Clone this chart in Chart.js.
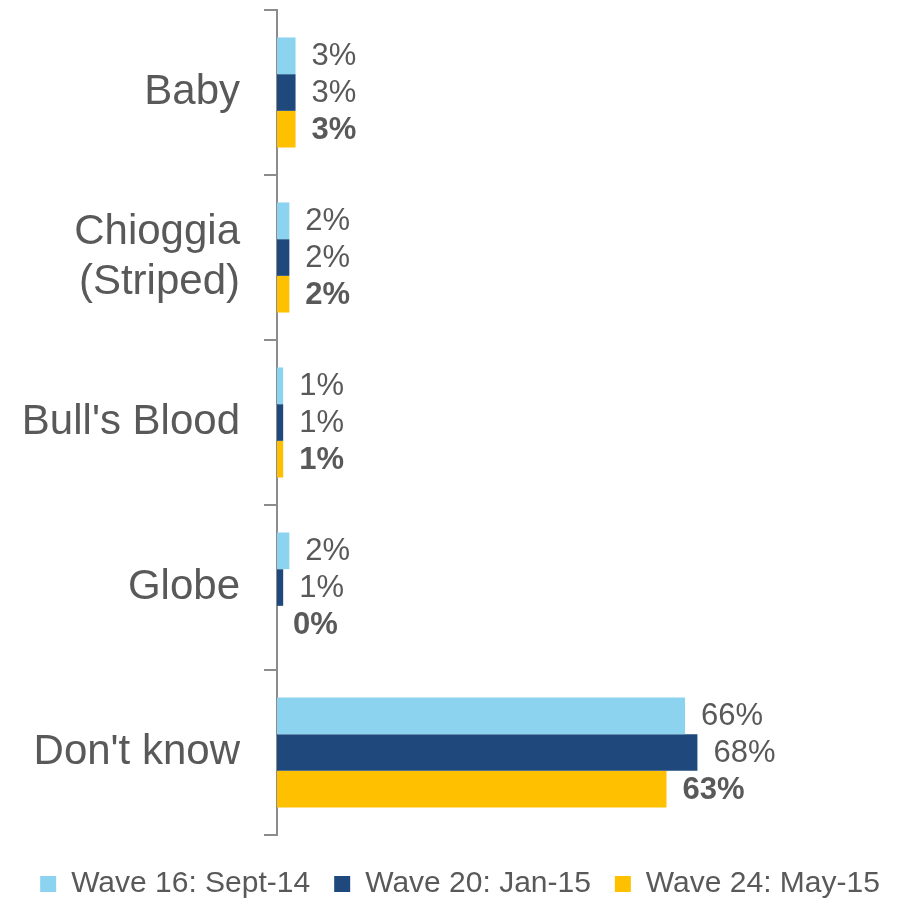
<!DOCTYPE html>
<html>
<head>
<meta charset="utf-8">
<script src="https://cdn.jsdelivr.net/npm/chart.js@4"></script>
<style>
  body { margin: 0; background: #fff; }
</style>
</head>
<body>
<canvas id="beetChart" width="920" height="900"></canvas>
<script>
// Beet varieties known, by survey wave (percent of respondents)
const varieties = ['Baby', ['Chioggia', '(Striped)'], "Bull's Blood", 'Globe', "Don't know"];
const wave16 = [3, 2, 1, 2, 66];
const wave20 = [3, 2, 1, 1, 68];
const wave24 = [3, 2, 1, 0, 63];
const waveNames = ['Wave 16: Sept-14', 'Wave 20: Jan-15', 'Wave 24: May-15'];
const waveColors = ['#8BD3EF', '#1F497D', '#FFC000'];

const textGray = '#595959';
const fontFamily = '"Liberation Sans", Arial, sans-serif';

// Writes the percentage to the right of every bar, latest wave in bold
const valueLabels = {
    id: 'valueLabels',
    afterDatasetsDraw(chart) {
        const c = chart.ctx;
        c.save();
        c.fillStyle = textGray;
        c.textAlign = 'left';
        c.textBaseline = 'middle';
        chart.data.datasets.forEach((ds, i) => {
            c.font = (i === 2 ? 'bold ' : '') + '31px ' + fontFamily;
            chart.getDatasetMeta(i).data.forEach((bar, j) => {
                c.fillText(ds.data[j] + '%', bar.x + 16, bar.y + 1);
            });
        });
        c.restore();
    }
};

const ctx = document.getElementById('beetChart').getContext('2d');

const beetChart = new Chart(ctx, {
    type: 'bar',
    data: {
        labels: varieties,
        datasets: [wave16, wave20, wave24].map((vals, i) => ({
            label: waveNames[i],
            data: vals,
            backgroundColor: waveColors[i],
            barPercentage: 1,
            categoryPercentage: 0.667
        }))
    },
    options: {
        indexAxis: 'y',
        responsive: false,
        animation: false,
        layout: { padding: { top: 10, right: 0, left: 0, bottom: -9 } },
        scales: {
            x: {
                // invisible, only keeps a gap above the legend
                afterFit(scale) { scale.height = 10; },
                min: 0,
                max: 104,
                grid: { display: false },
                border: { display: false },
                ticks: { display: false }
            },
            y: {
                afterFit(scale) {
                    scale.width = 277;
                    scale.paddingTop = 0;
                    scale.paddingBottom = 0;
                },
                border: { display: true, color: '#8C8C8C', width: 2 },
                grid: {
                    drawOnChartArea: false,
                    offset: true,
                    tickLength: 13,
                    color: '#8C8C8C',
                    lineWidth: 2
                },
                ticks: {
                    color: textGray,
                    padding: 24,
                    font: { family: fontFamily, size: 42, lineHeight: 1.2 }
                }
            }
        },
        plugins: {
            tooltip: { enabled: false },
            legend: {
                position: 'bottom',
                labels: {
                    boxWidth: 16,
                    boxHeight: 16,
                    padding: 24,
                    color: textGray,
                    font: { family: fontFamily, size: 30 }
                }
            }
        }
    },
    plugins: [valueLabels]
});
</script>
</body>
</html>
